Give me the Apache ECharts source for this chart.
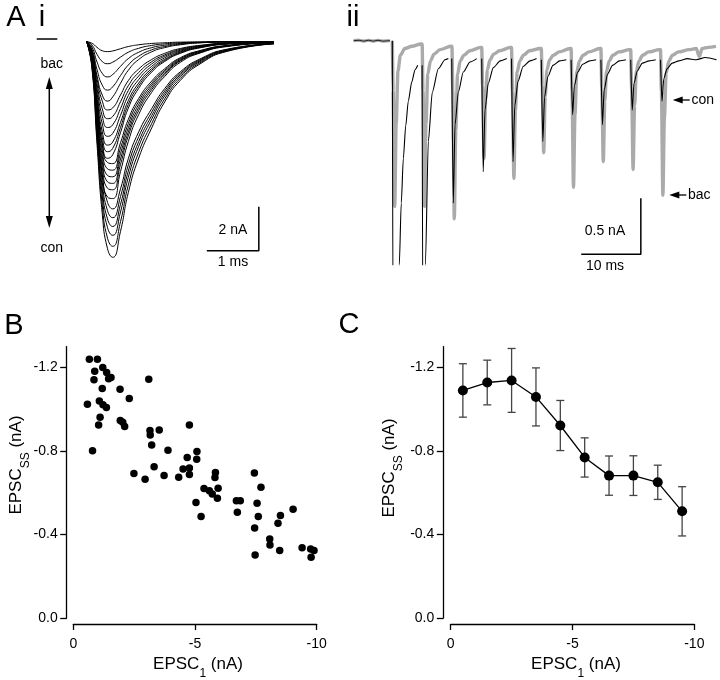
<!DOCTYPE html>
<html><head><meta charset="utf-8">
<script src="https://cdn.jsdelivr.net/npm/echarts@6/dist/echarts.min.js"></script>
<style>html,body{margin:0;padding:0;background:#fff}#c{width:720px;height:680px}</style>
</head><body><div id="c"></div>
<script>
// ---------- Panel A i : family of EPSCs (nA) sampled at these times (ms) ----------
const traceTimes = [0,0.1,0.2,0.3,0.4,0.5,0.65,0.8,1.0,1.25,1.5,1.8,2.2,2.7,3.6];
const tracesAi = [
 [0,-.07,-.26,-.41,-.45,-.42,-.32,-.22,-.14,-.08,-.05,-.02,-.01,0,0],
 [0,-.15,-.58,-.9,-1.0,-.93,-.7,-.48,-.3,-.17,-.1,-.05,-.02,-.01,0],
 [0,-.24,-.93,-1.44,-1.6,-1.49,-1.12,-.77,-.48,-.27,-.16,-.08,-.03,-.01,0],
 [0,-.33,-1.28,-1.98,-2.2,-2.05,-1.54,-1.06,-.66,-.37,-.22,-.11,-.04,-.01,0],
 [0,-.41,-1.57,-2.43,-2.7,-2.51,-1.89,-1.3,-.81,-.46,-.27,-.14,-.05,-.01,0],
 [0,-.43,-1.71,-2.7,-3.1,-3.01,-2.42,-1.77,-1.24,-.81,-.53,-.31,-.16,-.06,0],
 [0,-.49,-1.93,-3.05,-3.5,-3.4,-2.73,-2.0,-1.4,-.91,-.6,-.35,-.18,-.07,0],
 [0,-.55,-2.15,-3.39,-3.9,-3.78,-3.04,-2.22,-1.56,-1.01,-.66,-.39,-.2,-.08,0],
 [0,-.6,-2.37,-3.74,-4.3,-4.17,-3.35,-2.45,-1.72,-1.12,-.73,-.43,-.22,-.09,0],
 [0,-.66,-2.59,-4.09,-4.7,-4.56,-3.67,-2.68,-1.88,-1.22,-.8,-.47,-.24,-.09,0],
 [0,-.7,-2.75,-4.35,-5.0,-4.85,-3.9,-2.85,-2.0,-1.3,-.85,-.5,-.25,-.1,0],
 [0,-.74,-2.92,-4.61,-5.3,-5.14,-4.13,-3.02,-2.12,-1.38,-.9,-.53,-.27,-.11,0],
 [0,-.73,-2.91,-4.7,-5.49,-5.54,-4.59,-3.53,-2.58,-1.79,-1.23,-.73,-.39,-.17,-.03],
 [0,-.77,-3.07,-4.96,-5.78,-5.84,-4.84,-3.72,-2.71,-1.89,-1.3,-.77,-.41,-.18,-.03],
 [0,-.81,-3.22,-5.21,-6.08,-6.14,-5.08,-3.91,-2.85,-1.98,-1.36,-.81,-.43,-.19,-.03],
 [0,-.85,-3.38,-5.46,-6.37,-6.44,-5.33,-4.1,-2.99,-2.08,-1.43,-.85,-.46,-.2,-.03],
 [0,-.88,-3.54,-5.71,-6.66,-6.73,-5.58,-4.28,-3.13,-2.18,-1.5,-.88,-.48,-.2,-.03],
 [0,-.94,-3.74,-6.05,-7.06,-7.13,-5.9,-4.54,-3.31,-2.3,-1.58,-.94,-.5,-.22,-.04],
 [0,-.91,-3.65,-6.08,-7.3,-7.6,-6.69,-5.32,-4.1,-3.04,-2.13,-1.37,-.76,-.34,-.08],
 [0,-.96,-3.84,-6.4,-7.68,-8.0,-7.04,-5.6,-4.32,-3.2,-2.24,-1.44,-.8,-.36,-.08],
 [0,-1.01,-4.03,-6.72,-8.06,-8.4,-7.39,-5.88,-4.54,-3.36,-2.35,-1.51,-.84,-.38,-.08],
 [0,-1.06,-4.22,-7.04,-8.45,-8.8,-7.74,-6.16,-4.75,-3.52,-2.46,-1.58,-.88,-.4,-.09],
 [0,-1.12,-4.46,-7.44,-8.93,-9.3,-8.18,-6.51,-5.02,-3.72,-2.6,-1.67,-.93,-.42,-.09],
 [0,-1.18,-4.7,-7.84,-9.41,-9.8,-8.62,-6.86,-5.29,-3.92,-2.74,-1.76,-.98,-.44,-.1]
];
const scaleAi = [[2.31,-9.5],[3.31,-9.5],[3.31,-7.5]]; // 1 ms, 2 nA

// ---------- Panel A ii : train of EPSCs [ms, nA] ----------
const preBase = [[-6.5,0],[-5.6,0.004],[-4.8,-0.004],[-4.0,0.004],[-3.2,-0.004],[-2.4,0.004],[-1.6,-0.004],[-0.4,0]];
const grayTrain = [
 [0,0],[0.15,-0.45],[0.4,-1.48],[0.65,-0.74],[0.95,-0.27],[1.35,-0.13],[2.1,-0.07],[3.3,-0.05],[4.8,-0.03],
 [5,-0.03],[5.15,-0.45],[5.4,-1.48],[5.65,-0.74],[5.95,-0.3],[6.4,-0.18],[7.0,-0.12],[8.0,-0.08],[9.8,-0.05],
 [10,-0.05],[10.15,-0.45],[10.4,-1.59],[10.65,-0.8],[10.95,-0.3],[11.4,-0.18],[12.0,-0.13],[13.0,-0.09],[14.8,-0.06],
 [15,-0.06],[15.15,-0.4],[15.4,-1.05],[15.65,-0.53],[15.95,-0.26],[16.4,-0.17],[17.0,-0.12],[18.0,-0.09],[19.8,-0.06],
 [20,-0.06],[20.15,-0.45],[20.4,-1.23],[20.65,-0.62],[20.95,-0.28],[21.4,-0.18],[22.0,-0.13],[23.0,-0.09],[24.8,-0.07],
 [25,-0.07],[25.15,-0.4],[25.4,-1.0],[25.65,-0.5],[25.95,-0.26],[26.4,-0.17],[27.0,-0.13],[28.0,-0.1],[29.8,-0.07],
 [30,-0.07],[30.15,-0.45],[30.4,-1.31],[30.65,-0.66],[30.95,-0.28],[31.4,-0.18],[32.0,-0.13],[33.0,-0.1],[34.8,-0.07],
 [35,-0.07],[35.15,-0.42],[35.4,-1.08],[35.65,-0.54],[35.95,-0.27],[36.4,-0.18],[37.0,-0.13],[38.0,-0.1],[39.8,-0.08],
 [40,-0.08],[40.15,-0.42],[40.4,-1.15],[40.65,-0.58],[40.95,-0.27],[41.4,-0.18],[42.0,-0.13],[43.0,-0.1],[44.8,-0.08],
 [45,-0.08],[45.15,-0.45],[45.4,-1.38],[45.65,-0.69],[45.95,-0.29],[46.4,-0.18],[47.0,-0.13],[48.0,-0.1],[49.8,-0.08],
 [51.0,-0.07],[51.5,-0.14],[52.0,-0.07],[53.0,-0.06],[54.3,-0.05]
];
const blackSegments = [
 [[0,0],[0.12,-2.5],[0.6,-3.3],[1.08,-2.5],[1.17,-2.0],[1.5,-1.45],[1.85,-1.05],[2.25,-0.76],[2.68,-0.54],[3.26,-0.37],[3.81,-0.26],[4.26,-0.22]],
 [[5.0,-0.22],[5.12,-2.5],[5.33,-2.8],[5.45,-2.5],[5.55,-2.0],[6.04,-0.9],[6.71,-0.46],[7.72,-0.25],[8.84,-0.17],[9.4,-0.16]],
 [[9.97,-0.16],[10.23,-1.45],[10.52,-0.75],[11.07,-0.46],[11.91,-0.28],[13.04,-0.19],[14.16,-0.16]],
 [[15,-0.16],[15.25,-1.17],[15.55,-0.62],[16.1,-0.38],[16.95,-0.24],[18.1,-0.18],[19.2,-0.16]],
 [[20,-0.16],[20.25,-1.08],[20.55,-0.58],[21.1,-0.36],[21.95,-0.23],[23.1,-0.18],[24.2,-0.16]],
 [[25,-0.17],[25.25,-0.9],[25.55,-0.5],[26.1,-0.32],[26.95,-0.22],[28.1,-0.18],[29.2,-0.17]],
 [[30,-0.17],[30.25,-0.66],[30.55,-0.4],[31.1,-0.28],[31.95,-0.21],[33.1,-0.18],[34.2,-0.17]],
 [[35,-0.17],[35.25,-0.75],[35.55,-0.44],[36.1,-0.3],[36.95,-0.22],[38.1,-0.18],[39.2,-0.17]],
 [[40,-0.17],[40.25,-0.62],[40.55,-0.38],[41.1,-0.27],[41.95,-0.2],[43.1,-0.18],[44.2,-0.17]],
 [[45,-0.17],[45.25,-0.54],[45.55,-0.34],[46.1,-0.25],[46.95,-0.2],[48.1,-0.18],[49.5,-0.16],[51,-0.17],[52.5,-0.15],[54.4,-0.17]]
];
const scaleAii = [[31.7,-1.907],[41.7,-1.907],[41.7,-1.407]]; // 10 ms, 0.5 nA

// ---------- Panel B : EPSC1 vs EPSCss (nA) ----------
const bEpsc1 = [-0.66,-0.99,-0.88,-1.21,-0.85,-1.37,-1.45,-1.55,-1.19,-1.92,-2.30,-0.58,-1.07,-1.22,-1.36,-1.10,-1.04,-1.93,-2.03,-2.11,-0.79,
 -3.10,-3.15,-3.16,-3.53,-3.22,-3.89,-4.77,-4.68,-5.08,-5.07,-3.32,-2.49,-2.95,-3.73,-4.33,-4.51,-4.77,-4.77,-5.84,-5.82,-5.37,-5.59,-5.71,-5.92,-5.95,
 -5.04,-5.25,-6.70,-6.86,-6.74,-7.44,-7.71,-7.55,-7.60,-7.45,-7.47,-8.07,-8.08,-8.41,-8.51,-8.48,-9.03,-9.40,-9.75,-9.89,-9.77];
const bEpscSS = [-1.240,-1.240,-1.182,-1.200,-1.141,-1.176,-1.146,-1.152,-1.099,-1.096,-1.051,-1.024,-1.040,-1.021,-1.008,-0.962,-0.924,-0.946,-0.938,-0.917,-0.801,
 -1.144,-0.898,-0.877,-0.901,-0.829,-0.804,-0.924,-0.769,-0.797,-0.761,-0.725,-0.692,-0.665,-0.682,-0.674,-0.714,-0.719,-0.687,-0.697,-0.673,-0.620,-0.609,-0.594,-0.574,-0.622,
 -0.553,-0.486,-0.562,-0.562,-0.507,-0.694,-0.626,-0.550,-0.486,-0.431,-0.302,-0.379,-0.350,-0.454,-0.491,-0.323,-0.521,-0.337,-0.331,-0.323,-0.291];

// ---------- Panel C : binned means ± error ----------
const cEpsc1 = [-0.5,-1.5,-2.5,-3.5,-4.5,-5.5,-6.5,-7.5,-8.5,-9.5];
const cMean  = [-1.090,-1.128,-1.138,-1.059,-0.922,-0.769,-0.682,-0.682,-0.650,-0.511];
const cErr   = [0.128,0.107,0.153,0.139,0.120,0.094,0.094,0.095,0.082,0.118];

const yTicks = [0,-0.4,-0.8,-1.2];

// ---------- build ----------
const FF = '"Liberation Sans", Arial, Helvetica, sans-serif';
const chart = echarts.init(document.getElementById('c'), null, {renderer:'canvas'});
const series = [];
tracesAi.forEach(tr => {
  series.push({type:'line', xAxisIndex:0, yAxisIndex:0, data: traceTimes.map((t,i)=>[t,tr[i]]),
    showSymbol:false, smooth:0.55, lineStyle:{color:'#000', width:1}, silent:true});
});
series.push({type:'line', xAxisIndex:0, yAxisIndex:0, data:scaleAi, showSymbol:false, clip:false,
  lineStyle:{color:'#000', width:1.5}});
// A ii
series.push({type:'line', xAxisIndex:1, yAxisIndex:1, data:preBase, showSymbol:false, lineStyle:{color:'#aaa', width:3.3}});
series.push({type:'line', xAxisIndex:1, yAxisIndex:1, data:grayTrain, showSymbol:false, smooth:0.3, smoothMonotone:'x', lineStyle:{color:'#aaa', width:3.4}});
series.push({type:'line', xAxisIndex:1, yAxisIndex:1, data:preBase, showSymbol:false, lineStyle:{color:'#222', width:1}});
blackSegments.forEach(seg => series.push({type:'line', xAxisIndex:1, yAxisIndex:1, data:seg, showSymbol:false,
  smooth:0.25, smoothMonotone:'x', lineStyle:{color:'#000', width:1.1}}));
series.push({type:'line', xAxisIndex:1, yAxisIndex:1, data:scaleAii, showSymbol:false, clip:false,
  lineStyle:{color:'#000', width:1.5}});
// B
series.push({type:'scatter', xAxisIndex:2, yAxisIndex:2, data: bEpsc1.map((x,i)=>[x,bEpscSS[i]]),
  symbolSize:7.5, itemStyle:{color:'#000', opacity:1}});
// C
series.push({type:'custom', xAxisIndex:3, yAxisIndex:3, data: cEpsc1.map((x,i)=>[x,cMean[i],cErr[i]]), z:1,
  renderItem:(p,api)=>{
    const x=api.value(0), y=api.value(1), e=api.value(2);
    const a=api.coord([x,y-e]), b=api.coord([x,y+e]); const w=4;
    const st={stroke:'#444', lineWidth:1.3};
    return {type:'group', children:[
      {type:'line', shape:{x1:a[0],y1:a[1],x2:b[0],y2:b[1]}, style:st},
      {type:'line', shape:{x1:a[0]-w,y1:a[1],x2:a[0]+w,y2:a[1]}, style:st},
      {type:'line', shape:{x1:b[0]-w,y1:b[1],x2:b[0]+w,y2:b[1]}, style:st}]};
  }});
series.push({type:'line', xAxisIndex:3, yAxisIndex:3, data: cEpsc1.map((x,i)=>[x,cMean[i]]), z:3,
  symbol:'circle', symbolSize:10, showSymbol:true, lineStyle:{color:'#000', width:1.3}, itemStyle:{color:'#000', opacity:1}});

function xAx(gi){ return {gridIndex:gi, type:'value', min:-10, max:0, inverse:true, interval:5, offset:6,
  axisLine:{show:true, onZero:false, lineStyle:{color:'#000', width:1.3}},
  axisTick:{show:true, length:6, lineStyle:{color:'#000', width:1.3}},
  axisLabel:{color:'#000', fontSize:14, fontFamily:FF, margin:13}, splitLine:{show:false}}; }
function yAx(gi, off){ return {gridIndex:gi, type:'value', min:-1.3, max:0, inverse:true, offset:off,
  axisLine:{show:true, onZero:false, lineStyle:{color:'#000', width:1.3}},
  axisTick:{show:true, length:6.5, customValues:yTicks, lineStyle:{color:'#000', width:1.3}},
  axisLabel:{color:'#000', fontSize:14, fontFamily:FF, margin:9, customValues:yTicks, formatter:v=>v.toFixed(1)},
  splitLine:{show:false}}; }

const rich = {a:{fontSize:17, fontFamily:FF, lineHeight:24, verticalAlign:'top', fill:'#000', color:'#000'},
              s:{fontSize:12, fontFamily:FF, lineHeight:14, verticalAlign:'bottom', fill:'#000', color:'#000'}};
function txt(x,y,t,size,align){ return {type:'text', x, y, style:{text:t, fontSize:size, fontFamily:FF, fill:'#000',
  align:align||'center', verticalAlign:'middle', textAlign:align||'center', textVerticalAlign:'middle'}}; }
function richTxt(x,y,t,rot){ return {type:'text', x, y, rotation:rot||0, style:{text:t, rich, fill:'#000',
  align:'center', verticalAlign:'middle', textAlign:'center', textVerticalAlign:'middle'}}; }
function arrowLeft(x,y,len){ return [
  {type:'polygon', shape:{points:[[x,y],[x+10,y-3.5],[x+10,y+3.5]]}, style:{fill:'#000'}},
  {type:'line', shape:{x1:x+9,y1:y,x2:x+len,y2:y}, style:{stroke:'#000', lineWidth:1.3}}]; }

const graphics = [
  txt(16,18,'A',29), txt(42,18,'i',29), txt(353,18,'ii',29), txt(14,326,'B',29), txt(349,325,'C',29),
  {type:'line', shape:{x1:36.7,y1:39,x2:57.3,y2:39}, style:{stroke:'#000', lineWidth:1.5}},
  txt(51.7,64,'bac',14), txt(51.7,248,'con',14),
  {type:'line', shape:{x1:49.3,y1:86,x2:49.3,y2:219}, style:{stroke:'#000', lineWidth:1.5}},
  {type:'polygon', shape:{points:[[49.3,77],[45.8,89],[52.8,89]]}, style:{fill:'#000'}},
  {type:'polygon', shape:{points:[[49.3,228],[45.8,216],[52.8,216]]}, style:{fill:'#000'}},
  txt(233,230,'2 nA',14), txt(233,262,'1 ms',14),
  txt(605,231,'0.5 nA',14), txt(605,266,'10 ms',14),
  ...arrowLeft(672.7,100,17), txt(691.5,100,'con',14,'left'),
  ...arrowLeft(669.3,195,17), txt(688,195,'bac',14,'left'),
  richTxt(20,465,'{a|EPSC}{s|SS}{a| (nA)}',Math.PI/2),
  richTxt(393,468,'{a|EPSC}{s|SS}{a| (nA)}',Math.PI/2),
  richTxt(198,668,'{a|EPSC}{s|1}{a| (nA)}',0),
  richTxt(576,668,'{a|EPSC}{s|1}{a| (nA)}',0)
];

chart.setOption({
  animation:false, backgroundColor:'#fff',
  textStyle:{fontFamily:FF},
  grid:[
    {left:81.5, top:30.7, width:197.6, height:231, outerBoundsMode:'none'},
    {left:350.6, top:29.5, width:369.5, height:235.2, outerBoundsMode:'none'},
    {left:73.3, top:346.6, width:243.4, height:271.4, outerBoundsMode:'none'},
    {left:450.7, top:346.6, width:243.6, height:271.4, outerBoundsMode:'none'}
  ],
  xAxis:[
    {gridIndex:0, type:'value', min:-0.1, max:3.7, show:false},
    {gridIndex:1, type:'value', min:-7, max:55, show:false},
    xAx(2), xAx(3)
  ],
  yAxis:[
    {gridIndex:0, type:'value', min:-10, max:0.5, show:false},
    {gridIndex:1, type:'value', min:-2.0, max:0.1, show:false},
    yAx(2,6.6), yAx(3,7.4)
  ],
  series, graphic:graphics
});
</script></body></html>
